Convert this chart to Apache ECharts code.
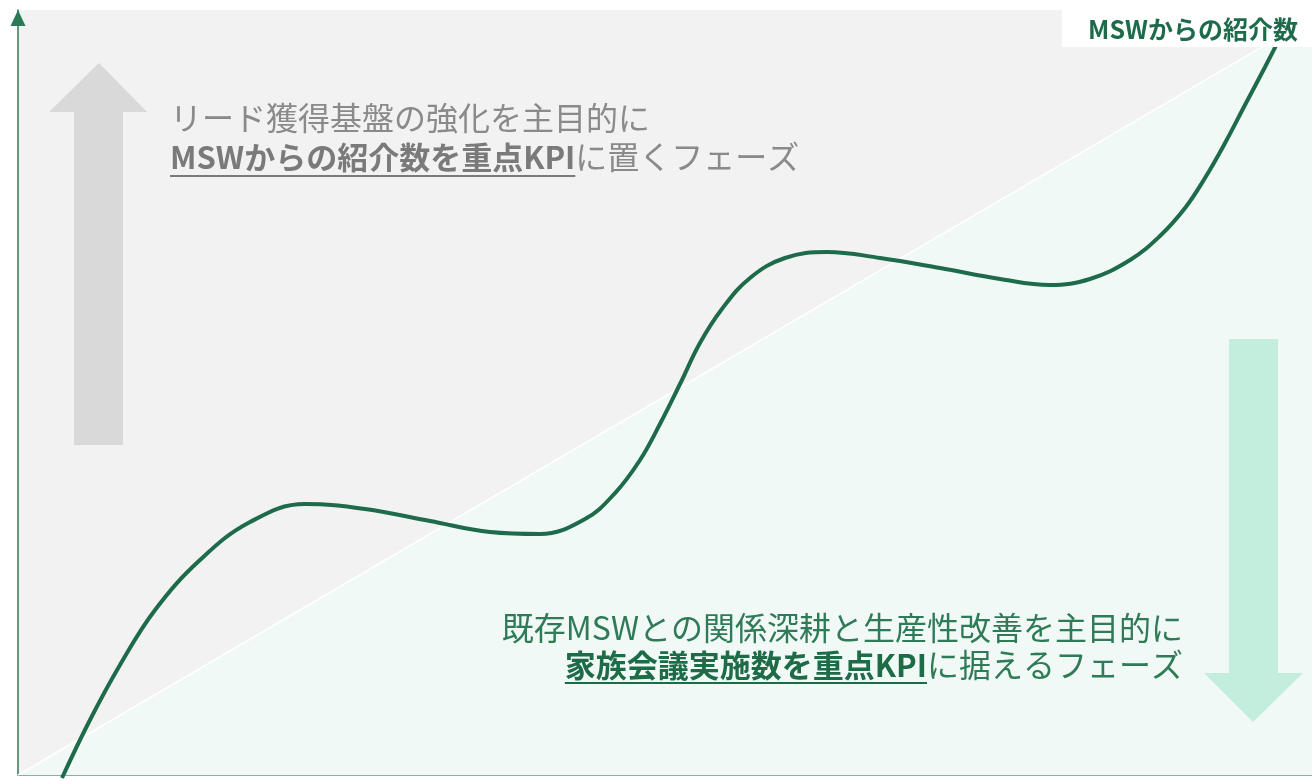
<!DOCTYPE html>
<html><head><meta charset="utf-8">
<script src="https://cdn.jsdelivr.net/npm/echarts@6/dist/echarts.min.js"></script>
<style>html,body{margin:0;padding:0;background:#fff}#c{width:1312px;height:781px}</style>
</head><body><div id="c"></div>
<script>
// ---- data (conceptual phase curve, arbitrary 0-100 units) ----
const curveX = [3.40, 5.56, 7.88, 10.59, 14.06, 17.93, 22.18, 26.82, 31.84, 36.48, 40.34, 43.82, 46.14, 48.07, 49.61, 51.16, 52.70, 54.40, 56.57, 59.27, 62.52, 66.62, 71.25, 75.89, 79.75, 82.84, 85.94, 88.25, 90.19, 91.73, 93.28, 94.82, 96.37, 97.91];
const curveY = [-0.39, 7.19, 14.38, 21.57, 28.10, 33.07, 35.42, 34.77, 33.20, 31.76, 31.50, 33.46, 36.86, 41.18, 45.88, 51.11, 56.47, 60.92, 64.97, 67.58, 68.37, 67.58, 66.27, 64.84, 64.05, 64.84, 67.32, 70.46, 74.12, 78.04, 82.61, 87.58, 92.55, 97.65];
const diagonalX = [0, 100];
const diagonalY = [0, 99];
const axisTitle = 'MSWからの紹介数';
const upperLine1 = 'リード獲得基盤の強化を主目的に';
const upperLine2Bold = 'MSWからの紹介数を重点KPI';
const upperLine2Rest = 'に置くフェーズ';
const lowerLine1 = '既存MSWとの関係深耕と生産性改善を主目的に';
const lowerLine2Bold = '家族会議実施数を重点KPI';
const lowerLine2Rest = 'に据えるフェーズ';

const FONT = '"Noto Sans CJK JP", "Noto Sans", sans-serif';
const FSN = 32, FSB = 31;
const ctx = document.createElement('canvas').getContext('2d');
function tw(text, weight, size) { ctx.font = weight + ' ' + size + 'px ' + FONT; return ctx.measureText(text).width; }

const curveData = curveX.map((x, i) => [x, curveY[i]]);
const diagData = diagonalX.map((x, i) => [x, diagonalY[i]]);

const grayN = '#8a8a8a', grayB = '#7a7a7a', greenN = '#2f7a57', greenB = '#1d6b47';

const uX = 170;
const uBoldW = tw(upperLine2Bold, 'bold', FSB);
const lRight = 1183;
const lRestW = tw(lowerLine2Rest, 'normal', FSN);
const lBoldW = tw(lowerLine2Bold, 'bold', FSB);

const chart = echarts.init(document.getElementById('c'));
chart.setOption({
  animation: false,
  backgroundColor: '#ffffff',
  grid: { left: 18, right: 0, top: 10, bottom: 6, show: true, backgroundColor: '#f2f2f2', borderWidth: 0, containLabel: false, outerBoundsMode: 'none' },
  xAxis: {
    type: 'value', min: 0, max: 100,
    axisLine: { show: true, onZero: false, lineStyle: { color: '#5e9a80', width: 1.5 } },
    axisTick: { show: false }, axisLabel: { show: false }, splitLine: { show: false }
  },
  yAxis: {
    type: 'value', min: 0, max: 100,
    axisLine: { show: true, onZero: false, symbol: ['none', 'triangle'], symbolSize: [15, 16], symbolOffset: [0, -8], lineStyle: { color: '#2b7a57', width: 1.5 } },
    axisTick: { show: false }, axisLabel: { show: false }, splitLine: { show: false }
  },
  series: [
    {
      type: 'line', data: diagData, showSymbol: false, silent: true, z: 1,
      lineStyle: { color: '#ffffff', width: 1.5 },
      areaStyle: { color: '#f1f9f6', origin: 'start', opacity: 1 }
    },
    {
      type: 'line', data: curveData, showSymbol: false, smooth: 0.4, clip: false, silent: true, z: 5,
      lineStyle: { color: '#1d6b4a', width: 4 }
    }
  ],
  graphic: [
    { type: 'polygon', z: 10, shape: { points: [[99,63],[147,112],[123,112],[123,445],[74,445],[74,112],[49,112]] }, style: { fill: '#d9d9d9' } },
    { type: 'polygon', z: 10, shape: { points: [[1229,339],[1278,339],[1278,673],[1303,673],[1253,722],[1204,673],[1229,673]] }, style: { fill: '#c3eedd' } },
    { type: 'rect', z: 20, shape: { x: 1062, y: 10, width: 250, height: 37 }, style: { fill: '#ffffff' } },
    { type: 'text', z: 21, x: 1193, y: 29, style: { text: axisTitle, font: 'bold 25px ' + FONT, fill: '#1d6b4a', textAlign: 'center', textVerticalAlign: 'middle' } },
    { type: 'text', z: 21, x: uX, y: 118, style: { text: upperLine1, font: 'normal ' + FSN + 'px ' + FONT, fill: grayN, textAlign: 'left', textVerticalAlign: 'middle' } },
    { type: 'text', z: 21, x: uX, y: 157, style: { text: upperLine2Bold, font: 'bold ' + FSB + 'px ' + FONT, fill: grayB, textAlign: 'left', textVerticalAlign: 'middle' } },
    { type: 'text', z: 21, x: uX + uBoldW, y: 157, style: { text: upperLine2Rest, font: 'normal ' + FSN + 'px ' + FONT, fill: grayN, textAlign: 'left', textVerticalAlign: 'middle' } },
    { type: 'rect', z: 21, shape: { x: uX, y: 175, width: uBoldW, height: 2 }, style: { fill: grayB } },
    { type: 'text', z: 21, x: lRight, y: 628, style: { text: lowerLine1, font: 'normal ' + FSN + 'px ' + FONT, fill: greenN, textAlign: 'right', textVerticalAlign: 'middle' } },
    { type: 'text', z: 21, x: lRight, y: 665, style: { text: lowerLine2Rest, font: 'normal ' + FSN + 'px ' + FONT, fill: greenN, textAlign: 'right', textVerticalAlign: 'middle' } },
    { type: 'text', z: 21, x: lRight - lRestW, y: 665, style: { text: lowerLine2Bold, font: 'bold ' + FSB + 'px ' + FONT, fill: greenB, textAlign: 'right', textVerticalAlign: 'middle' } },
    { type: 'rect', z: 21, shape: { x: lRight - lRestW - lBoldW, y: 682, width: lBoldW, height: 2 }, style: { fill: greenB } }
  ]
});
</script>
</body></html>
